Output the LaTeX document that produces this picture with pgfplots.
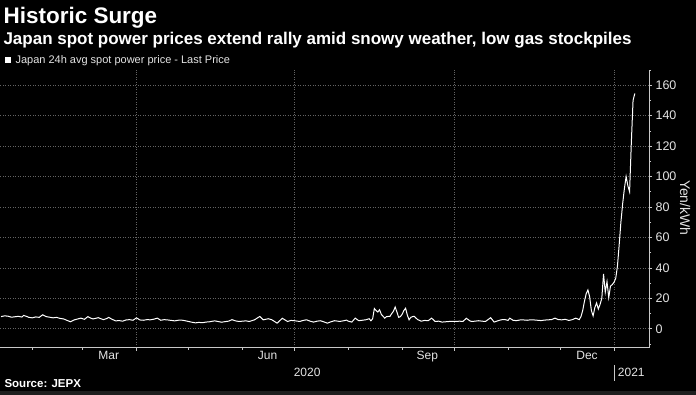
\documentclass[border=0pt]{standalone}
\usepackage{pgfplots}
\pgfplotsset{compat=1.18}
\usepackage{fontspec}
\setmainfont{Liberation Sans}
\definecolor{axgray}{RGB}{200,200,200}
\definecolor{gridgray}{RGB}{100,100,100}
\definecolor{txtgray}{RGB}{228,228,228}
\definecolor{bandgray}{RGB}{30,30,30}
\pgfplotstableread{
d v
13 8.0
15 8.5
17 8.3
19 7.6
21 7.9
23 8.2
25 7.7
26 8.8
28 8.0
29 7.5
31 7.2
33 7.8
35 7.5
37 9.2
39 8.0
41 7.6
43 7.2
45 7.5
47 6.8
49 6.5
50 6.0
53 4.6
55 5.8
57 6.4
59 7.0
61 6.2
63 8.0
65 6.8
66 6.5
68 7.0
69 7.3
71 6.4
72 6.0
74 6.8
75 7.5
77 6.2
79 5.2
81 5.4
83 5.0
85 5.8
87 6.0
89 5.6
91 7.2
93 5.8
95 5.6
97 6.0
99 5.9
101 6.3
103 7.0
105 5.6
107 6.0
109 5.8
111 5.5
113 5.2
115 5.6
117 5.7
119 5.3
121 4.8
123 4.3
125 3.9
127 4.2
129 4.0
131 4.4
133 4.6
135 5.0
136 5.2
138 4.8
140 4.3
142 4.7
144 5.0
146 6.0
148 5.2
150 4.8
152 5.0
154 5.2
156 4.8
159 5.9
162 8.1
164 5.9
167 6.6
169 5.9
172 3.7
175 6.9
178 4.8
180 5.5
182 5.3
185 4.8
187 5.5
189 5.9
191 5.0
193 4.4
195 5.0
197 5.3
199 4.5
201 3.7
203 4.6
205 5.3
207 5.0
208 4.8
210 5.2
212 5.7
213 5.0
215 4.4
217 7.0
219 5.3
221 5.6
223 5.9
225 6.6
226 5.3
227 6.5
228 13.3
229 12.0
230 11.0
231 12.5
232 9.5
234 7.0
235 8.0
237 8.2
238 10.0
239 11.5
240 14.3
241 11.0
242 7.5
243 8.0
244 9.5
245 12.0
246 13.5
247 9.0
248 5.9
249 7.5
250 8.0
251 8.2
252 7.0
253 6.0
255 5.0
257 5.5
259 5.3
261 7.0
263 4.8
265 5.0
267 4.4
269 4.6
271 4.8
273 4.9
275 4.8
277 5.0
279 4.8
281 6.9
283 5.2
284 4.8
286 5.0
288 5.3
290 5.0
292 4.8
295 7.3
297 4.4
299 5.2
301 5.9
303 6.1
305 5.5
306 7.0
308 5.5
310 5.4
312 5.8
314 5.8
316 5.6
318 5.9
320 5.8
322 5.6
324 5.4
326 5.7
328 5.9
330 6.0
332 7.0
334 6.0
336 5.9
338 6.2
340 5.5
342 6.0
344 7.0
345 6.5
346 6.0
347 8.0
348 12.0
349 18.0
350 23.0
351 25.5
352 21.0
353 12.0
354 8.5
355 14.0
356 17.0
357 13.0
358 16.0
359 20.0
360 36.0
361 24.0
362 31.0
363 20.5
364 28.0
365 29.0
366 30.5
367 33.0
368 41.0
369 55.0
370 70.0
371 82.0
372 92.0
373 100.0
374 94.0
375 90.0
376 122.0
377 150.0
378 154.5
}\pricedata
\begin{document}
\begin{tikzpicture}
\fill[black] (0pt,0pt) rectangle (696pt,395pt);
\fill[bandgray] (0pt,0pt) rectangle (696pt,4pt);
\node[anchor=base west, inner sep=0pt, font=\fontsize{22.5}{24}\selectfont\bfseries, text=white] at (3pt,371pt) {Historic Surge};
\node[anchor=base west, inner sep=0pt, font=\fontsize{17}{19}\selectfont\bfseries, text=white] at (3pt,350pt) {Japan spot power prices extend rally amid snowy weather, low gas stockpiles};
\fill[white] (5pt,332pt) rectangle (11pt,338pt);
\node[anchor=base west, inner sep=0pt, font=\fontsize{11}{12}\selectfont, text=txtgray] at (15pt,331pt) {Japan 24h avg spot power price - Last Price};
\node[anchor=base west, inner sep=0pt, font=\fontsize{11.5}{12}\selectfont\bfseries, text=white] at (4pt,7pt) {Source: JEPX};
\begin{axis}[
  at={(0pt,47pt)}, anchor=south west, scale only axis,
  width=649pt, height=278pt,
  xmin=12.6, xmax=386.2, ymin=-12.5, ymax=170,
  clip=false,
  axis x line*=bottom, axis y line*=right,
  axis line style={axgray, line width=0.7pt},
  tick align=outside,
  major tick length=3pt, minor tick length=2pt,
  tick style={axgray, line width=0.6pt},
  xtick={91,182,274,366}, xticklabels={,,,},
  minor xtick={31,60,121,152,213,244,305,335},
  extra x ticks={75,166.5,258.5,350.5},
  extra x tick labels={Mar,Jun,Sep,Dec},
  extra x tick style={major tick length=0pt, grid=none},
  xticklabel style={font=\fontsize{12}{13}\selectfont, text=txtgray},
  ytick={0,20,...,160},
  minor ytick={-10,10,30,50,70,90,110,130,150,170},
  yticklabel style={font=\fontsize{12.5}{13}\selectfont, text=txtgray, anchor=west},
  /pgf/number format/assume math mode=true,
  xmajorgrids, ymajorgrids,
  grid style={gridgray, dash pattern=on 1pt off 1.5pt, line width=0.6pt},
]
\addplot[white, line width=1pt] table[x=d, y=v] {\pricedata};
\node[anchor=base, font=\fontsize{12}{13}\selectfont, text=txtgray, yshift=-29pt] at (axis cs:189.3,-12.5) {2020};
\node[anchor=base, font=\fontsize{12}{13}\selectfont, text=txtgray, yshift=-29pt] at (axis cs:376,-12.5) {2021};
\draw[axgray, line width=0.6pt] (axis cs:366,-12.5) ++(0pt,-17pt) -- ++(0pt,-16pt);
\end{axis}
\node[rotate=-90, font=\fontsize{14}{15}\selectfont, text=txtgray] at (685pt,187pt) {Yen/kWh};
\end{tikzpicture}
\end{document}
